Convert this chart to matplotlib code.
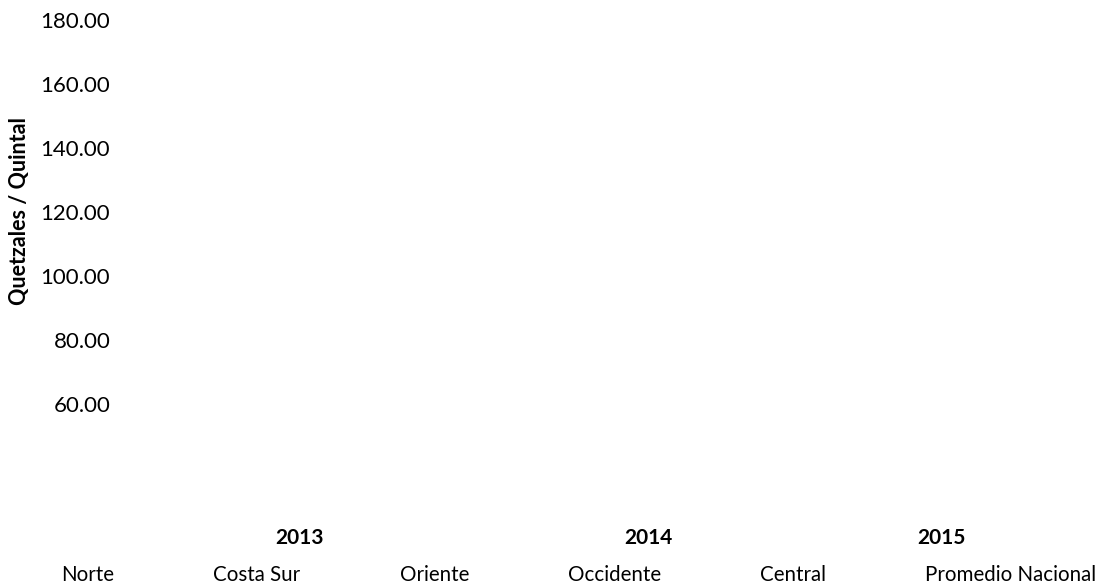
import matplotlib
matplotlib.use("Agg")
from matplotlib import pyplot as plt

# chart content (the reference shows no visible data marks)
regions = ["Norte", "Costa Sur", "Oriente", "Occidente", "Central", "Promedio Nacional"]
years = ["2013", "2014", "2015"]
y_ticks = [60, 80, 100, 120, 140, 160, 180]

plt.rcParams['font.family'] = ['Lato', 'DejaVu Sans']

W, H = 1113, 584
fig = plt.figure(figsize=(W / 100, H / 100), dpi=100)

# plot area in pixels: left 120, right 1100, top 20, bottom 500
left, right, top, bottom = 120, 1100, 20, 500
ax = fig.add_axes([left / W, (H - bottom) / H, (right - left) / W, (bottom - top) / H])

# series are drawn in white, so only their legend text shows
for name in regions:
    ax.plot([], [], color="white", linewidth=2, label=name)

ax.set_ylim(30, 180)
ax.set_yticks(y_ticks)
ax.set_yticklabels([f"{v:.2f}" for v in y_ticks], fontsize=16)

ax.set_xlim(0, 1)
year_pos = [(299 - left) / (right - left), (648 - left) / (right - left), (941 - left) / (right - left)]
ax.set_xticks(year_pos)
ax.set_xticklabels(years, fontsize=15, fontweight="bold")

ax.tick_params(axis="both", length=0)
ax.tick_params(axis="y", pad=7)
ax.tick_params(axis="x", pad=20)
for s in ax.spines.values():
    s.set_visible(False)

ax.set_ylabel("Quetzales / Quintal", fontsize=15.5, fontweight="bold")
ax.yaxis.set_label_coords((30 - left) / (right - left), (bottom - 211) / (bottom - top))

fig.legend(loc="center left", bbox_to_anchor=(10 / W, (H - 575) / H),
           bbox_transform=fig.transFigure, ncol=6, frameon=False, fontsize=14.8,
           handlelength=2, handletextpad=0.5, columnspacing=2.32,
           borderpad=0, borderaxespad=0)

fig.savefig("out.png", dpi=100)
